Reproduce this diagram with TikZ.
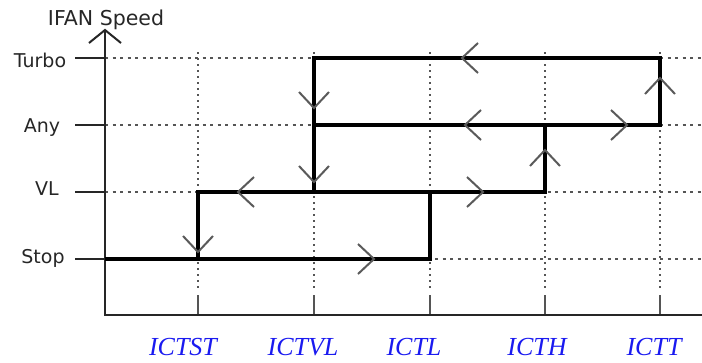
\documentclass[tikz,border=0pt]{standalone}
\usepackage{fontspec}
\setmainfont{DejaVu Sans}
\newfontfamily\fontict{Liberation Serif}
\usepackage{tikz}

\definecolor{cAsse}{HTML}{262626}
\definecolor{cGriglia}{HTML}{555555}
\definecolor{cPunta}{HTML}{5A5A5A}
\definecolor{cBlu}{HTML}{1A1AF0}

\begin{document}
\begin{tikzpicture}[x=1pt, y=-1pt,
		asse/.style={draw=cAsse, line width=2pt},
		griglia/.style={draw=cGriglia, line width=1.8pt, dash pattern=on 3pt off 4.5pt},
		grigliav/.style={draw=cGriglia, line width=1.8pt, dash pattern=on 1.8pt off 4.2pt},
		tacca/.style={draw=cGriglia, line width=1.8pt},
		percorso/.style={draw=black, line width=3.3pt},
		punta/.style={draw=cPunta, line width=2pt},
		livello/.style={font=\fontsize{19}{21}\selectfont, text=cAsse, inner sep=0pt, anchor=base},
		soglia/.style={font=\fontict\itshape\fontsize{26}{29}\selectfont, text=cBlu, inner sep=0pt, text depth=0pt, anchor=base},
		freccia/.pic={\draw[punta] (-16,-15) -- (0,0) -- (-16,15);}]
	\useasboundingbox (0,0) rectangle (702,362);

	% Assi e punti di riferimento
	\coordinate (O) at (105,315);
	\coordinate (Ytop) at (105,30);
	\coordinate (Xend) at (702,315);
	\coordinate (gTop) at (105,52);
	\coordinate (gBot) at (105,290);
	\coordinate (tTop) at (105,295);

	% Livelli di velocita
	\coordinate (rTurbo) at (105,58);
	\coordinate (rAny) at (105,125);
	\coordinate (rVL) at (105,192);
	\coordinate (rStop) at (105,259);

	% Soglie
	\coordinate (cST) at (198,315);
	\coordinate (cVL) at (314,315);
	\coordinate (cL) at (430,315);
	\coordinate (cH) at (545,315);
	\coordinate (cT) at (660,315);

	% Griglia tratteggiata
	\draw[griglia] (rTurbo) -- (rTurbo -| Xend);
	\draw[griglia] (rAny) -- (rAny -| Xend);
	\draw[griglia] (rVL) -- (rVL -| Xend);
	\draw[griglia] (rStop) -- (rStop -| Xend);
	\draw[grigliav] (cST |- gTop) -- (cST |- gBot);
	\draw[grigliav] (cVL |- gTop) -- (cVL |- gBot);
	\draw[grigliav] (cL |- gTop) -- (cL |- gBot);
	\draw[grigliav] (cH |- gTop) -- (cH |- gBot);
	\draw[grigliav] (cT |- gTop) -- (cT |- gBot);

	% Tacche sull'asse x
	\draw[tacca] (cST) -- (cST |- tTop);
	\draw[tacca] (cVL) -- (cVL |- tTop);
	\draw[tacca] (cL) -- (cL |- tTop);
	\draw[tacca] (cH) -- (cH |- tTop);
	\draw[tacca] (cT) -- (cT |- tTop);

	% Assi
	\draw[asse] (Ytop) -- (O) -- (Xend);
	\draw[asse] (Ytop) ++(-16,13) -- (Ytop) -- ++(16,13);
	\draw[asse] (rTurbo) -- +(-30,0);
	\draw[asse] (rAny) -- +(-30,0);
	\draw[asse] (rVL) -- +(-30,0);
	\draw[asse] (rStop) -- +(-30,0);

	% Percorso (isteresi)
	\draw[percorso] (rStop) -| (cL |- rVL);
	\draw[percorso] (cST |- rStop) |- (cH |- rVL) -- (cH |- rAny);
	\draw[percorso] (cVL |- rVL) -- (cVL |- rTurbo) -- (cT |- rTurbo) -- (cT |- rAny) -- (cVL |- rAny);

	% Frecce lungo il percorso
	\pic at (374,259) {freccia};
	\pic[rotate=180] at (238,192) {freccia};
	\pic at (483,192) {freccia};
	\pic[rotate=-90] at (198,252) {freccia};
	\pic[rotate=-90] at (314,108) {freccia};
	\pic[rotate=-90] at (314,182) {freccia};
	\pic[rotate=90] at (545,150) {freccia};
	\pic[rotate=180] at (465,125) {freccia};
	\pic at (627,125) {freccia};
	\pic[rotate=90] at (660,78) {freccia};
	\pic[rotate=180] at (462,58) {freccia};

	% Etichette
	\node[livello, font=\fontsize{20.5}{22}\selectfont] (titolo) at (106,25) {IFAN Speed};
	\node[livello] (lTurbo) at (40,67) {Turbo};
	\node[livello] (lAny) at (42,132) {Any};
	\node[livello] (lVL) at (47,195) {VL};
	\node[livello] (lStop) at (43,263) {Stop};
	\node[soglia] (sST) at (183,355) {ICTST};
	\node[soglia] (sVL) at (303,355) {ICTVL};
	\node[soglia] (sL) at (414,355) {ICTL};
	\node[soglia] (sH) at (537,355) {ICTH};
	\node[soglia] (sT) at (654,355) {ICTT};
\end{tikzpicture}
\end{document}
